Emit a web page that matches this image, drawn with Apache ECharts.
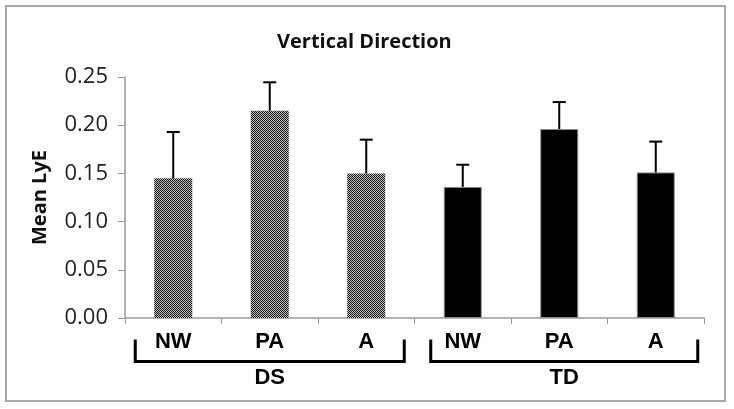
<!DOCTYPE html>
<html><head><meta charset="utf-8">
<script src="https://cdn.jsdelivr.net/npm/echarts@6/dist/echarts.min.js"></script>
<style>html,body{margin:0;padding:0;background:#fff}#c{width:734px;height:409px}</style>
</head><body><div id="c"></div>
<script>
// ---- data ----
const titleText = 'Vertical Direction';
const yAxisTitle = 'Mean LyE';
const categories = ['NW', 'PA', 'A', 'NW', 'PA', 'A'];
const groups = ['DS', 'TD'];
const groupOfCategory = [0, 0, 0, 1, 1, 1];
const meanValues = [0.145, 0.215, 0.150, 0.136, 0.196, 0.151];
const errorTops = [0.193, 0.2445, 0.185, 0.159, 0.224, 0.183];
const yMin = 0, yMax = 0.25, yStep = 0.05;

// ---- pattern for DS bars ----
const pat = document.createElement('canvas');
pat.width = 2; pat.height = 2;
const pctx = pat.getContext('2d');
pctx.fillStyle = '#b8b8b8'; pctx.fillRect(0, 0, 2, 2);
pctx.fillStyle = '#1c1c1c'; pctx.fillRect(0, 0, 1, 1); pctx.fillRect(1, 1, 1, 1);

const groupStyles = [
  { color: { image: pat, repeat: 'repeat' }, borderColor: '#777', borderWidth: 0 },
  { color: '#000', borderColor: '#8a8a8a', borderWidth: 1 }
];

const barData = meanValues.map((v, i) => ({ value: v, itemStyle: groupStyles[groupOfCategory[i]] }));
const errData = meanValues.map((v, i) => [i, v, errorTops[i]]);

const chart = echarts.init(document.getElementById('c'), null, { renderer: 'canvas' });
const option = {
  animation: false,
  backgroundColor: '#fff',
  title: {
    text: titleText, left: 272, top: 27,
    textStyle: { fontFamily: 'Open Sans', fontWeight: 'bold', fontSize: 20, color: '#111' }
  },
  grid: { left: 125, right: 30, top: 77, bottom: 91 },
  xAxis: {
    type: 'category', data: categories,
    axisLine: { lineStyle: { color: '#9a9a9a', width: 1.5 } },
    axisTick: { show: true, interval: 0, length: 6, lineStyle: { color: '#9a9a9a' } },
    axisLabel: { interval: 0, margin: 13, fontFamily: 'Liberation Sans', fontWeight: 'bold', fontSize: 22, color: '#000' }
  },
  yAxis: {
    type: 'value', min: yMin, max: yMax, interval: yStep,
    name: yAxisTitle, nameLocation: 'middle', nameGap: 75,
    nameTextStyle: { fontFamily: 'Open Sans', fontWeight: 'bold', fontSize: 20, color: '#111' },
    axisLine: { show: true, lineStyle: { color: '#9a9a9a', width: 1.5 } },
    axisTick: { show: true, length: 7, lineStyle: { color: '#9a9a9a' } },
    splitLine: { show: false },
    axisLabel: { margin: 17, fontFamily: 'Open Sans', fontSize: 22, color: '#222', formatter: v => v.toFixed(2) }
  },
  series: [
    { type: 'bar', data: barData, barWidth: 38, z: 2 },
    {
      type: 'custom', data: errData, z: 3,
      renderItem: function (params, api) {
        const x = api.value(0);
        const base = api.coord([x, api.value(1)]);
        const top = api.coord([x, api.value(2)]);
        const hw = 6.5;
        return {
          type: 'group',
          children: [
            { type: 'line', shape: { x1: base[0], y1: base[1], x2: top[0], y2: top[1] }, style: { stroke: '#000', lineWidth: 2 } },
            { type: 'line', shape: { x1: top[0] - hw, y1: top[1], x2: top[0] + hw, y2: top[1] }, style: { stroke: '#000', lineWidth: 2 } }
          ]
        };
      }
    }
  ]
};
chart.setOption(option);

// brackets + group labels (positions derived from axis pixels)
const axisY = chart.convertToPixel({ yAxisIndex: 0 }, 0);
const cx = i => chart.convertToPixel({ xAxisIndex: 0 }, i);
const bracketSpec = [
  { g: 0, from: 0, to: 2, padL: 38, padR: 38 },
  { g: 1, from: 3, to: 5, padL: 32, padR: 42 }
];
const graphics = [
  { type: 'rect', shape: { x: 6, y: 6, width: 719, height: 395 }, style: { fill: 'none', stroke: '#a9a9a9', lineWidth: 2 }, silent: true }
];
bracketSpec.forEach(b => {
  const l = cx(b.from) - b.padL, r = cx(b.to) + b.padR;
  const t = axisY + 21.5, bt = axisY + 43.5;
  graphics.push({ type: 'polyline', shape: { points: [[l, t], [l, bt], [r, bt], [r, t]] }, style: { stroke: '#000', lineWidth: 3, fill: 'none', lineJoin: 'miter' }, silent: true });
  graphics.push({ type: 'text', x: (l + r) / 2, y: axisY + 60, style: { text: groups[b.g], fontFamily: 'Liberation Sans', fontWeight: 'bold', fontSize: 22, fill: '#000', align: 'center', verticalAlign: 'middle' }, silent: true });
});
chart.setOption({ graphic: graphics });
</script></body></html>
